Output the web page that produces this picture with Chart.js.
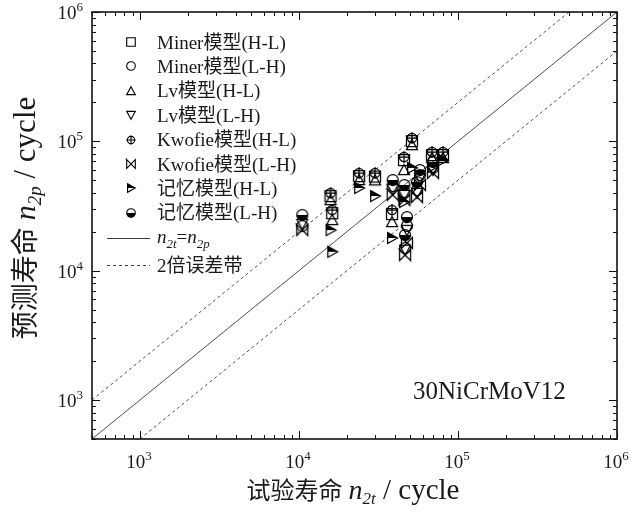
<!DOCTYPE html>
<html>
<head>
<meta charset="utf-8">
<script src="https://cdn.jsdelivr.net/npm/chart.js@4/dist/chart.umd.min.js"></script>
<style>
  html, body { margin: 0; padding: 0; background: #ffffff; }
  #wrap { width: 635px; height: 513px; }
</style>
</head>
<body>
<div id="wrap"><canvas id="c" width="635" height="513"></canvas></div>
<script>
// Experimental lives (cycles) of the high-low and low-high loading tests
const testLifeHL = [15800, 16200, 23900, 30100, 38500, 45800, 51400, 68700, 80500];
const testLifeLH = [10500, 38900, 46000, 47800, 46500, 55300, 57700, 69700];

// Predicted lives for each model
const minerHL  = [37800, 27900, 54000, 53500, 27500, 71800, 100700, 78500, 78500];
const lvHL     = [35200, 24700, 50300, 50000, 23800, 60100, 93700, 74400, 74400];
const kwofieHL = [39900, 29500, 56900, 56900, 29500, 75700, 106200, 82800, 82800];
const memoryHL = [20600, 14000, 43600, 37800, 17900, 34000, 62300, 63400, 71800];

const minerLH  = [22200, 45200, 40600, 22200, 15000, 42100, 55000, 62300];
const lvLH     = [23000, 42800, 38500, 20600, 14500, 39900, 52100, 60100];
const kwofieLH = [20600, 38500, 35200, 16400, 13200, 37100, 46000, 56900];
const memoryLH = [27000, 50300, 46000, 26000, 18900, 48500, 60100, 69300];

const seriesNames = ['Miner模型(H-L)', 'Miner模型(L-H)', 'Lv模型(H-L)', 'Lv模型(L-H)',
                     'Kwofie模型(H-L)', 'Kwofie模型(L-H)', '记忆模型(H-L)', '记忆模型(L-H)'];
const markerKinds = ['square', 'circle', 'triUp', 'triDown', 'crossCircle', 'bowtie', 'halfTri', 'halfCircle'];

// Axis range and decade tick labels
const axisMin = 500, axisMax = 1000000;
const decadeTicks = [1000, 10000, 100000, 1000000];
const decadeExp = ['3', '4', '5', '6'];

// Reference lines: equality line and factor-of-two band
const bandFactor = 2;
const diagEnds = [axisMin, axisMax];

const INK = '#1a1a1a';
const SERIF = '"Liberation Serif", "Times New Roman", "Noto Sans CJK SC", serif';

function makeMarker(kind, r, lw) {
  const size = Math.ceil(2 * r + 5);
  const cv = document.createElement('canvas');
  cv.width = size; cv.height = size;
  const g = cv.getContext('2d');
  const c = size / 2;
  g.lineWidth = lw;
  g.strokeStyle = '#000';
  g.fillStyle = '#000';
  g.lineJoin = 'miter';
  g.beginPath();
  switch (kind) {
    case 'square':
      g.rect(c - r, c - r, 2 * r, 2 * r);
      g.stroke();
      break;
    case 'circle':
      g.arc(c, c, r, 0, Math.PI * 2);
      g.stroke();
      break;
    case 'triUp':
      g.moveTo(c, c - r); g.lineTo(c + r, c + r * 0.85); g.lineTo(c - r, c + r * 0.85); g.closePath();
      g.stroke();
      break;
    case 'triDown':
      g.moveTo(c, c + r); g.lineTo(c + r, c - r * 0.85); g.lineTo(c - r, c - r * 0.85); g.closePath();
      g.stroke();
      break;
    case 'crossCircle':
      g.arc(c, c, r * 0.85, 0, Math.PI * 2);
      g.moveTo(c - r - 0.5, c); g.lineTo(c + r + 0.5, c);
      g.moveTo(c, c - r - 0.5); g.lineTo(c, c + r + 0.5);
      g.stroke();
      break;
    case 'bowtie':
      g.moveTo(c - r, c - r); g.lineTo(c + r, c + r); g.lineTo(c + r, c - r);
      g.lineTo(c - r, c + r); g.closePath();
      g.moveTo(c - r - 1, c - r - 1); g.lineTo(c - r, c - r);
      g.stroke();
      break;
    case 'halfTri': {
      const lx = c - r * 0.8;
      g.moveTo(lx, c - r); g.lineTo(c + r, c); g.lineTo(lx, c); g.closePath();
      g.fill();
      g.beginPath();
      g.moveTo(lx, c - r); g.lineTo(c + r, c); g.lineTo(lx, c + r); g.closePath();
      g.stroke();
      break;
    }
    case 'halfCircle':
      g.arc(c, c, r, 0, Math.PI);
      g.closePath();
      g.fill();
      g.beginPath();
      g.arc(c, c, r, 0, Math.PI * 2);
      g.stroke();
      break;
  }
  return cv;
}

const plotMarkers = markerKinds.map(k => makeMarker(k, 5.5, 1.25));
const legendMarkers = markerKinds.map(k => makeMarker(k, 4.3, 1.1));

const seriesX = [testLifeHL, testLifeLH, testLifeHL, testLifeLH, testLifeHL, testLifeLH, testLifeHL, testLifeLH];
const seriesY = [minerHL, minerLH, lvHL, lvLH, kwofieHL, kwofieLH, memoryHL, memoryLH];

const pointSets = seriesY.map((ys, i) => ({
  type: 'scatter',
  label: seriesNames[i],
  data: ys.map((y, j) => ({ x: seriesX[i][j], y: y })),
  pointStyle: plotMarkers[i],
  pointRadius: 6,
  order: 1
}));

const lineSets = [
  { data: diagEnds.map(v => ({ x: v, y: v })), borderDash: [] },
  { data: [{ x: diagEnds[0], y: diagEnds[0] * bandFactor }, { x: diagEnds[1] / bandFactor, y: diagEnds[1] }], borderDash: [3, 3] },
  { data: [{ x: diagEnds[0] * bandFactor, y: diagEnds[0] }, { x: diagEnds[1], y: diagEnds[1] / bandFactor }], borderDash: [3, 3] }
].map(s => ({
  type: 'line',
  label: '',
  data: s.data,
  borderColor: '#3a3a3a',
  borderWidth: 0.9,
  borderDash: s.borderDash,
  pointRadius: 0,
  fill: false,
  order: 5
}));

function drawRich(ctx, segs, x, baseline, align) {
  let total = 0;
  segs.forEach(s => {
    ctx.font = (s.italic ? 'italic ' : '') + s.size + 'px ' + SERIF;
    s.w = ctx.measureText(s.t).width;
    total += s.w;
  });
  let cx = align === 'center' ? x - total / 2 : (align === 'right' ? x - total : x);
  ctx.textAlign = 'left';
  ctx.textBaseline = 'alphabetic';
  segs.forEach(s => {
    ctx.font = (s.italic ? 'italic ' : '') + s.size + 'px ' + SERIF;
    ctx.fillText(s.t, cx, baseline + (s.dy || 0));
    cx += s.w;
  });
  return total;
}

const decorPlugin = {
  id: 'decor',
  afterDraw(chart) {
    const ctx = chart.ctx;
    const a = chart.chartArea;
    const xs = chart.scales.x, ys = chart.scales.y;
    ctx.save();
    ctx.fillStyle = INK;
    ctx.strokeStyle = '#111';

    // inward ticks on all four sides
    ctx.lineWidth = 1;
    ctx.beginPath();
    for (let d = 2; d <= 6; d++) {
      for (let m = 1; m <= 9; m++) {
        const v = m * Math.pow(10, d);
        if (v < axisMin || v > axisMax) continue;
        const len = m === 1 ? 8 : 4;
        const px = Math.round(xs.getPixelForValue(v)) + 0.5;
        ctx.moveTo(px, a.bottom); ctx.lineTo(px, a.bottom - len);
        ctx.moveTo(px, a.top); ctx.lineTo(px, a.top + len);
        const py = Math.round(ys.getPixelForValue(v)) + 0.5;
        ctx.moveTo(a.left, py); ctx.lineTo(a.left + len, py);
        ctx.moveTo(a.right, py); ctx.lineTo(a.right - len, py);
      }
    }
    ctx.stroke();

    // frame
    ctx.lineWidth = 1.6;
    ctx.strokeRect(a.left, a.top, a.right - a.left, a.bottom - a.top);

    // decade labels
    decadeTicks.forEach((v, i) => {
      const px = xs.getPixelForValue(v);
      drawRich(ctx, [{ t: '10', size: 19 }, { t: decadeExp[i], size: 13, dy: -8 }], px - 1, a.bottom + 29, 'center');
      const py = ys.getPixelForValue(v);
      drawRich(ctx, [{ t: '10', size: 19 }, { t: decadeExp[i], size: 13, dy: -8 }], 83, py + 7, 'right');
    });

    // axis titles
    drawRich(ctx, [
      { t: '试验寿命 ', size: 24 },
      { t: 'n', size: 28, italic: true },
      { t: '2t', size: 17, italic: true, dy: 5 },
      { t: ' / cycle', size: 29 }
    ], 353, 499, 'center');

    ctx.save();
    ctx.translate(35, 218);
    ctx.rotate(-Math.PI / 2);
    drawRich(ctx, [
      { t: '预测寿命 ', size: 28 },
      { t: 'n', size: 30, italic: true },
      { t: '2p', size: 19, italic: true, dy: 6 },
      { t: ' / cycle', size: 31 }
    ], 0, 0, 'center');
    ctx.restore();

    // material label
    drawRich(ctx, [{ t: '30NiCrMoV12', size: 25 }], 413, 399, 'left');

    // legend
    const rowY = [42, 66.4, 90.8, 115.2, 139.6, 164, 188.4, 212.8, 238, 265];
    seriesNames.forEach((name, i) => {
      const mk = legendMarkers[i];
      ctx.drawImage(mk, Math.round(131 - mk.width / 2), Math.round(rowY[i] - mk.height / 2));
      drawRich(ctx, [{ t: name, size: 19 }], 157, rowY[i] + 6.5, 'left');
    });
    ctx.lineWidth = 1;
    ctx.strokeStyle = '#3a3a3a';
    ctx.beginPath();
    ctx.moveTo(107, Math.round(rowY[8]) + 0.5); ctx.lineTo(150, Math.round(rowY[8]) + 0.5);
    ctx.stroke();
    ctx.setLineDash([3, 3]);
    ctx.beginPath();
    ctx.moveTo(107, Math.round(rowY[9]) + 0.5); ctx.lineTo(150, Math.round(rowY[9]) + 0.5);
    ctx.stroke();
    ctx.setLineDash([]);
    drawRich(ctx, [
      { t: 'n', size: 19, italic: true },
      { t: '2t', size: 13, italic: true, dy: 5 },
      { t: '=', size: 19 },
      { t: 'n', size: 19, italic: true },
      { t: '2p', size: 13, italic: true, dy: 5 }
    ], 157, rowY[8] + 5, 'left');
    drawRich(ctx, [{ t: '2倍误差带', size: 19 }], 157, rowY[9] + 6.5, 'left');

    ctx.restore();
  }
};

new Chart(document.getElementById('c'), {
  data: { datasets: [...pointSets, ...lineSets] },
  options: {
    responsive: false,
    devicePixelRatio: 1,
    animation: false,
    layout: { padding: { left: 92, right: 18, top: 12, bottom: 74 } },
    scales: {
      x: { type: 'logarithmic', min: axisMin, max: axisMax, display: false },
      y: { type: 'logarithmic', min: axisMin, max: axisMax, display: false }
    },
    plugins: { legend: { display: false }, tooltip: { enabled: false } }
  },
  plugins: [decorPlugin]
});
</script>
</body>
</html>
